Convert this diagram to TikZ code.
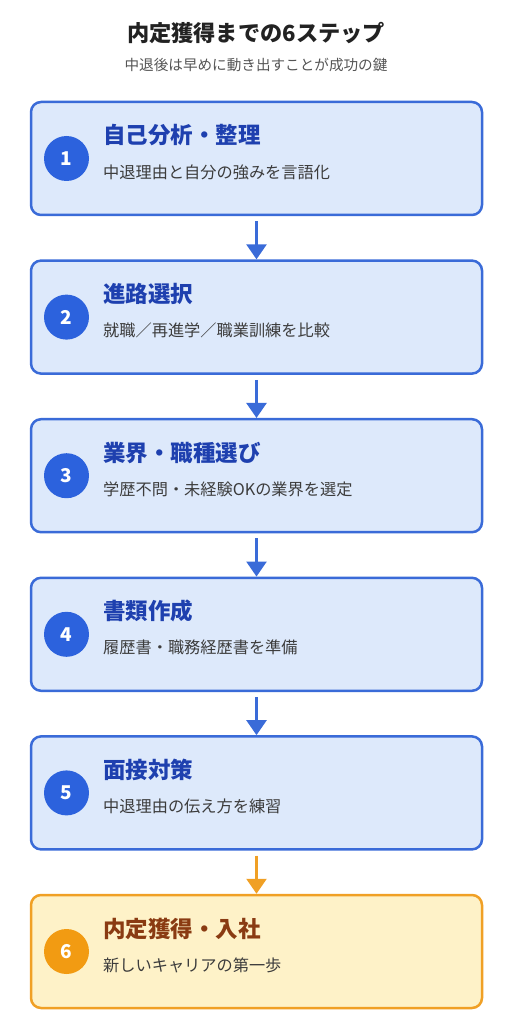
\documentclass[tikz,border=0pt]{standalone}
\usepackage{fontspec}
\setmainfont{Noto Sans CJK JP}
\usetikzlibrary{arrows.meta}

\definecolor{blueline}{HTML}{3A6BD8}
\definecolor{bluefill}{HTML}{DDE9FB}
\definecolor{bluedot}{HTML}{2C62DD}
\definecolor{bluetext}{HTML}{1E40AF}
\definecolor{orangeline}{HTML}{F0A025}
\definecolor{orangefill}{HTML}{FEF2C8}
\definecolor{orangedot}{HTML}{F29B12}
\definecolor{browntext}{HTML}{8A3B12}
\definecolor{desctext}{HTML}{3C3C3C}

\tikzset{
  stepbox/.style={draw=blueline, fill=bluefill, line width=2.5pt, rounded corners=10pt,
    minimum width=451pt, minimum height=113pt},
  stepdot/.style={circle, fill=bluedot, minimum size=45pt, inner sep=0pt,
    text=white, font=\fontsize{19}{19}\selectfont\bfseries},
  steptitle/.style={anchor=west, inner sep=0pt, text=bluetext,
    font=\fontsize{22.5}{22}\selectfont\bfseries},
  stepdesc/.style={anchor=west, inner sep=0pt, text=desctext,
    font=\fontsize{16.2}{16}\selectfont},
  goal/.style={draw=orangeline, fill=orangefill},
  flow/.style={-{Triangle[width=20pt,length=15pt]}, line width=2.5pt, draw=blueline,
    shorten <=5pt}
}

\begin{document}
\begin{tikzpicture}[x=1pt, y=-1pt]
\useasboundingbox (0,0) rectangle (512,1024);

\node (title) at (256,33) {\fontsize{22.2}{22}\selectfont\bfseries\color[HTML]{222222}内定獲得までの6ステップ};
\node (subtitle) at (256,65) {\fontsize{14.6}{14}\selectfont\color[HTML]{555555}中退後は早めに動き出すことが成功の鍵};

% steps
\node[stepbox] (s1) at (256.5,158.5) {};
\node[stepdot] (n1) at (66.5,158.5) {1};
\node[steptitle] (t1) at (103,135.5) {自己分析・整理};
\node[stepdesc] (d1) at (103,172) {中退理由と自分の強みを言語化};

\node[stepbox] (s2) at (256.5,317.1) {};
\node[stepdot] (n2) at (66.5,317.1) {2};
\node[steptitle] (t2) at (103,294.1) {進路選択};
\node[stepdesc] (d2) at (103,330.6) {就職／再進学／職業訓練を比較};

\node[stepbox] (s3) at (256.5,475.7) {};
\node[stepdot] (n3) at (66.5,475.7) {3};
\node[steptitle] (t3) at (103,452.7) {業界・職種選び};
\node[stepdesc] (d3) at (103,489.2) {学歴不問・未経験OKの業界を選定};

\node[stepbox] (s4) at (256.5,634.3) {};
\node[stepdot] (n4) at (66.5,634.3) {4};
\node[steptitle] (t4) at (103,611.3) {書類作成};
\node[stepdesc] (d4) at (103,647.8) {履歴書・職務経歴書を準備};

\node[stepbox] (s5) at (256.5,792.9) {};
\node[stepdot] (n5) at (66.5,792.9) {5};
\node[steptitle] (t5) at (103,769.9) {面接対策};
\node[stepdesc] (d5) at (103,806.4) {中退理由の伝え方を練習};

\node[stepbox, goal] (s6) at (256.5,951.5) {};
\node[stepdot, fill=orangedot] (n6) at (66.5,951.5) {6};
\node[steptitle, text=browntext] (t6) at (103,928.5) {内定獲得・入社};
\node[stepdesc] (d6) at (103,965) {新しいキャリアの第一歩};

% arrows
\draw[flow] (s1) -- (s2);
\draw[flow] (s2) -- (s3);
\draw[flow] (s3) -- (s4);
\draw[flow] (s4) -- (s5);
\draw[flow, draw=orangeline, fill=orangeline] (s5) -- (s6);
\end{tikzpicture}
\end{document}
